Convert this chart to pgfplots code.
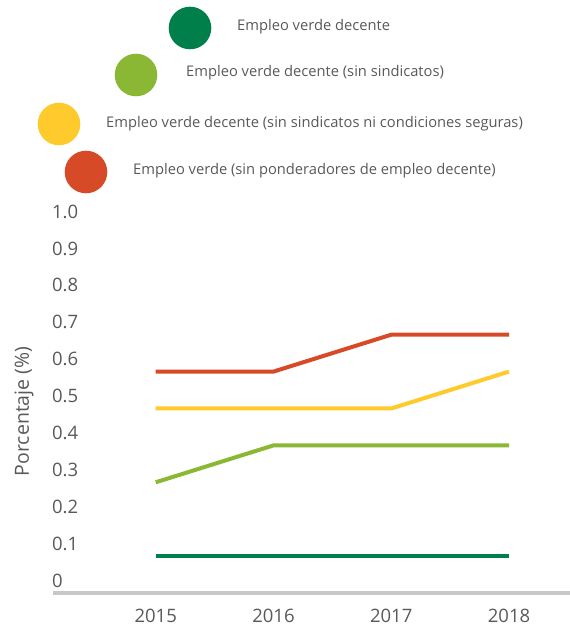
\documentclass[border=0pt]{standalone}
\usepackage{fontspec}
\setmainfont{Open Sans}
\usepackage{pgfplots}
\pgfplotsset{compat=1.18}
\definecolor{cdark}{RGB}{0,127,75}
\definecolor{clight}{RGB}{139,184,52}
\definecolor{cyellow}{RGB}{254,202,44}
\definecolor{cred}{RGB}{214,74,39}
\definecolor{ctext}{RGB}{89,89,89}
\definecolor{caxis}{RGB}{200,200,200}
\begin{document}
\begin{tikzpicture}
\useasboundingbox (0,0) rectangle (570bp,626bp);
\begin{axis}[
  at={(53bp,33bp)}, anchor=south west,
  scale only axis, width=517bp, height=369bp,
  xmin=2014.128, xmax=2018.518, ymin=0, ymax=1,
  axis x line=bottom, axis y line=left,
  x axis line style={draw=caxis, line width=3bp, -},
  y axis line style={draw=none},
  tick style={draw=none},
  xtick={2015,2016,2017,2018},
  xticklabels={2015,2016,2017,2018},
  ytick={0,0.1,0.2,0.3,0.4,0.5,0.6,0.7,0.8,0.9,1.0},
  yticklabels={0,0.1,0.2,0.3,0.4,0.5,0.6,0.7,0.8,0.9,1.0},
  /pgf/number format/assume math mode=true,
  ticklabel style={font=\fontsize{18.5bp}{22bp}\selectfont, text=ctext},
  xticklabel style={anchor=center, yshift=-21bp},
  yticklabel style={anchor=west, inner sep=0pt, xshift=1bp, yshift=12.4bp},
  clip=false,
  every axis plot/.append style={line width=4bp, line cap=butt, mark=none},
]
\addplot[cdark] coordinates {(2015,0.1) (2016,0.1) (2017,0.1) (2018,0.1)};
\addplot[clight] coordinates {(2015,0.3) (2016,0.4) (2017,0.4) (2018,0.4)};
\addplot[cyellow] coordinates {(2015,0.5) (2016,0.5) (2017,0.5) (2018,0.6)};
\addplot[cred] coordinates {(2015,0.6) (2016,0.6) (2017,0.7) (2018,0.7)};
\end{axis}
\node[rotate=90, text=ctext, font=\fontsize{19.5bp}{23bp}\selectfont, inner sep=0pt] at (24bp,214.5bp) {Porcentaje (\%)};
% legend
\fill[cdark] (190bp,598bp) circle (21.3bp);
\fill[clight] (136bp,551bp) circle (21.3bp);
\fill[cyellow] (59bp,502bp) circle (21.3bp);
\fill[cred] (86bp,454bp) circle (21.3bp);
\begin{scope}[every node/.style={anchor=base west, inner sep=0pt, text=ctext, font=\fontsize{14.7bp}{18bp}\selectfont}]
\node at (237bp,595.5bp) {Empleo verde decente};
\node at (186bp,549bp) {Empleo verde decente (sin sindicatos)};
\node at (106bp,498.5bp) {Empleo verde decente (sin sindicatos ni condiciones seguras)};
\node at (133bp,451bp) {Empleo verde (sin ponderadores de empleo decente)};
\end{scope}
\end{tikzpicture}
\end{document}
